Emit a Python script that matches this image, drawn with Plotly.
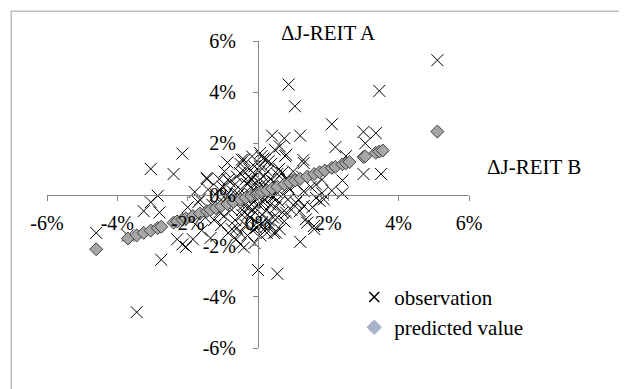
import plotly.graph_objects as go

# Observations (% change): J-REIT B (x) vs J-REIT A (y)
obs_x = [5.1, 3.45, 0.87, 1.05, 1.2, 2.1, 0.4, 0.75, 3.0, 3.35, 3.05, 2.2, 3.0, 3.5, 2.5, 2.4, 2.4, 2.1,
         -2.15, -3.05, -2.4, -0.87, -2.85, -3.05, -3.25, -2.8, -4.6, -3.7, -2.75, -3.45, 0.0, 0.55, 1.2, 1.6,
         1.75, 1.4, 0.75, -2.3, -2.05, -1.85, -2.15, -0.5, -1.35, -1.65, -1.45, -1.7, 0.48, -0.46, 0.77, 0.1,
         1.29, -1.46,
         0.62, 0.8, 1.3, 0.68, 0.85, 1.65, 1.82, 1.3, 1.65, 1.87, 1.82, 1.08, 1.19, 1.36, 1.59, 0.8, 0.51, 0.62,
         1.3, -0.51, -0.74, -0.62, -0.4, -0.96, -1.19, -1.42, -1.1, -0.85, -0.51, -0.4, -0.17, 0.06, 0.2, -0.1,
         -1.0, -0.9, -0.8, -0.75, -0.7, -0.65, -0.6, -0.55, -0.5, -0.45, -0.4, -0.38, -0.35, -0.3, -0.28, -0.25,
         -0.22, -0.2, -0.18, -0.15, -0.12, -0.1, -0.08, -0.05, -0.03, 0.0, 0.02, 0.05, 0.07, 0.1, 0.12, 0.15,
         0.18, 0.2, 0.22, 0.25, 0.28, 0.3, 0.33, 0.35, 0.38, 0.4, 0.43, 0.45, 0.5, 0.52, 0.55, 0.6, 0.65, 0.7,
         0.8, 0.85, 0.9, 0.95, 1.0,
         -1.1, -1.2, -1.05, -0.95, -0.85, -0.6, -0.5, -0.3, -0.1, 0.05, 0.15, 0.3, 0.45, 0.6, 0.7, -0.4, -0.2,
         0.0, 0.1, -0.65, -0.9, 0.25, -0.15, 0.35, 0.55, -0.75, 0.85, 1.1, 1.15, 1.25, 1.5, 1.55, -1.3, -1.5,
         -1.25, -1.9, -1.6, -1.8, -2.0, -1.1, -1.0,
         -0.3, -0.1, 0.15, 0.35, -0.55, -0.2, 0.05, 0.25, -0.45, 0.45, -0.05, -0.35]
obs_y = [5.25, 4.05, 4.3, 3.45, 2.3, 2.75, 2.3, 2.2, 2.45, 2.4, 2.0, 1.85, 0.8, 0.8, 1.5, 0.55, 0.05, 0.15,
         1.6, 1.0, 0.8, 1.25, -0.05, -0.3, -0.65, -0.7, -1.5, -1.6, -2.55, -4.6, -2.95, -3.1, -1.85, -1.35,
         -0.25, -1.1, -1.05, -1.75, -2.05, -1.75, -1.95, -1.95, -1.7, -0.2, 0.6, -0.3, 1.75, 1.36, 1.5, 1.5,
         1.35, 0.65,
         1.88, 1.55, 1.23, 0.84, 0.58, 0.39, 0.58, 0.13, -0.13, -0.19, 0.05, -0.32, -0.65, -0.97, -1.23, -0.71,
         -1.49, -1.36, -0.45, -1.49, -1.36, -1.75, -2.07, -0.84, -0.45, 0.19, 0.19, 0.58, 0.84, 1.36, 1.49,
         1.62, 1.36, 1.1,
         0.3, -0.2, 0.5, -0.6, 0.1, -1.0, 0.7, -0.3, 0.2, -0.8, 0.9, -0.1, -1.2, 0.4, -0.5, 1.0,
         -0.9, 0.0, 0.6, -1.4, -0.3, 0.8, -0.7, 0.3, -1.1, 0.5, -0.4, 1.1, -1.6, 0.1, -0.8, 0.7,
         -0.2, -1.3, 0.4, -0.6, 0.9, -1.0, 0.2, -0.4, 1.2, -0.1, -0.9, 0.5, -0.5, 0.1, 0.8, -0.3, 0.3, -0.7,
         0.6, -0.2, 0.2, -0.6, 0.9,
         -0.7, 0.0, -1.2, 0.9, -1.5, -1.3, 1.2, -1.6, -1.9, -1.2, 1.4, 1.3, -1.5, 1.0, 0.0, -0.4, 0.3,
         -0.1, 0.4, 0.4, 0.0, 0.0, -0.6, 0.6, -0.9, -0.2, 0.3, 0.4, -0.2, 0.7, 0.3, -0.5, -0.4, -0.9,
         -1.0, -1.0, -1.4, 0.1, -0.5, 0.6, -0.4,
         -0.8, -0.5, -0.3, -1.2, 0.0, 0.6, 0.9, -1.5, -0.6, -0.1, -1.3, 0.6]

# Predicted values (regression line points)
pred_x = [-4.6, -3.7, -3.45, -3.25, -3.05, -2.85, -2.75, -2.4, -2.3, -2.15, -2.05, -1.85, -1.65, -1.45,
          -1.35, -1.2, -1.05, -0.87, -0.7, -0.5, -0.35, -0.2, -0.05, 0.0, 0.1, 0.25, 0.4, 0.55, 0.75, 0.9,
          1.05, 1.2, 1.4, 1.6, 1.75, 1.9, 2.1, 2.2, 2.4, 2.5, 2.6, 3.0, 3.05, 3.35, 3.45, 3.55, 5.1]
pred_y = [-2.14, -1.72, -1.6, -1.5, -1.41, -1.31, -1.26, -1.1, -1.05, -0.98, -0.93, -0.84, -0.74, -0.65,
          -0.6, -0.53, -0.46, -0.37, -0.29, -0.2, -0.13, -0.05, 0.02, 0.04, 0.09, 0.16, 0.23, 0.3, 0.4, 0.47,
          0.54, 0.61, 0.7, 0.8, 0.87, 0.94, 1.04, 1.08, 1.18, 1.22, 1.27, 1.46, 1.49, 1.63, 1.68, 1.72, 2.46]

tick_vals = [-6, -4, -2, 0, 2, 4, 6]
tick_text = ["-6%", "-4%", "-2%", "0%", "2%", "4%", "6%"]
x_title = "ΔJ-REIT B"
y_title = "ΔJ-REIT A"

FONT = "Liberation Serif"
AXIS_COL = "#868686"

fig = go.Figure()
fig.add_trace(go.Scatter(x=obs_x, y=obs_y, mode="markers", showlegend=False,
                         marker=dict(symbol="x-thin-open", size=12, color="black",
                                     line=dict(color="black", width=1))))
fig.add_trace(go.Scatter(x=pred_x, y=pred_y, mode="markers", showlegend=False,
                         marker=dict(symbol="diamond", size=10, color="#a6a6a6",
                                     line=dict(color="#404040", width=1))))
# legend entries
fig.add_trace(go.Scatter(x=[None], y=[None], mode="markers", name="observation",
                         marker=dict(symbol="x-thin-open", size=10, color="black",
                                     line=dict(color="black", width=1.5))))
fig.add_trace(go.Scatter(x=[None], y=[None], mode="markers", name="predicted value",
                         marker=dict(symbol="diamond", size=12, color="#a9b3c9",
                                     line=dict(width=0))))

axis_common = dict(range=[-6, 6], tickmode="array", tickvals=tick_vals, ticktext=tick_text,
                   showgrid=False, zeroline=False,
                   showline=True, linecolor=AXIS_COL, linewidth=1, ticks="outside", ticklen=5,
                   tickcolor=AXIS_COL, tickfont=dict(family=FONT, size=20, color="black"),
                   anchor="free", position=0.5, fixedrange=True)

fig.update_layout(
    width=627, height=389,
    margin=dict(l=39, r=166, t=33, b=49, pad=0),
    paper_bgcolor="white", plot_bgcolor="white",
    font=dict(family=FONT, size=20, color="black"),
    xaxis=dict(**axis_common, domain=[0, 1], ticklabelstandoff=5),
    yaxis=dict(**axis_common, domain=[0, 1], ticklabelstandoff=13),
    legend=dict(x=0.728, y=0.232, xanchor="left", yanchor="top", bgcolor="rgba(0,0,0,0)",
                font=dict(family=FONT, size=21, color="black"), itemwidth=30, tracegroupgap=0),
    annotations=[
        dict(text=y_title, x=0.666, y=1.025, xref="paper", yref="paper", showarrow=False,
             xanchor="center", yanchor="middle",
             font=dict(family=FONT, size=21, color="black")),
        dict(text=x_title, x=1.154, y=0.589, xref="paper", yref="paper", showarrow=False,
             xanchor="center", yanchor="middle",
             font=dict(family=FONT, size=21, color="black")),
    ],
    shapes=[dict(type="rect", xref="paper", yref="paper", x0=-0.0848, x1=1.6, y0=-0.5, y1=1.0967,
                 line=dict(color="#c0c0c0", width=1.5), fillcolor="rgba(0,0,0,0)", layer="below")],
)

fig.write_html("out.html")
